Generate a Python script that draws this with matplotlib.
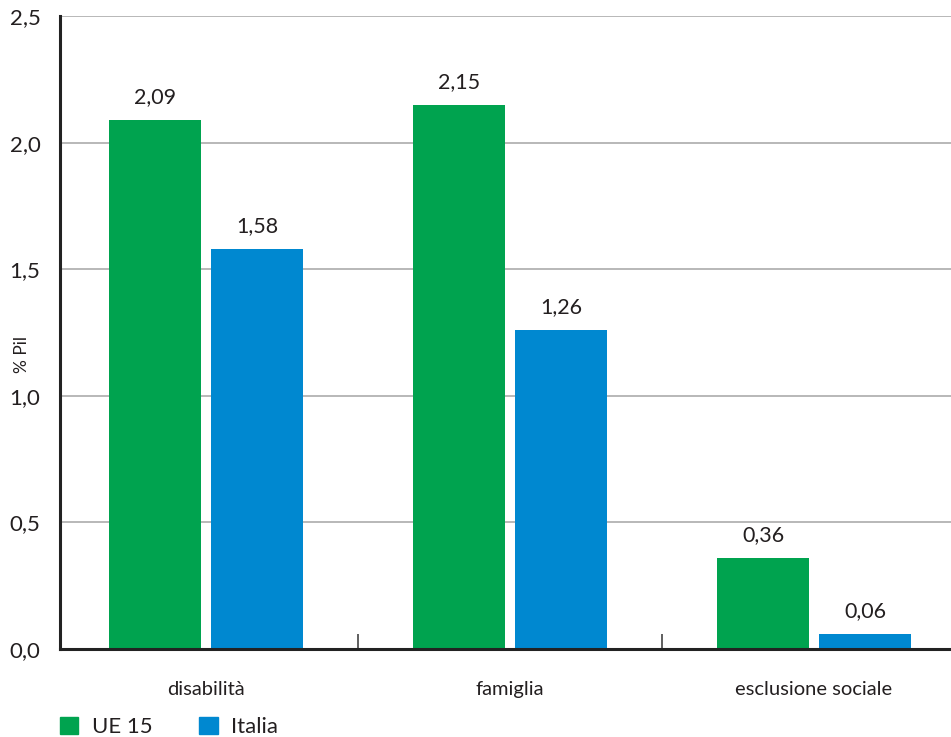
import matplotlib
matplotlib.use("Agg")
import matplotlib.pyplot as plt
from matplotlib.patches import Patch
import numpy as np

categories = ["disabilità", "famiglia", "esclusione sociale"]
ue15 = [2.09, 2.15, 0.36]
italia = [1.58, 1.26, 0.06]
series_names = ["UE 15", "Italia"]
yticks = [0.0, 0.5, 1.0, 1.5, 2.0, 2.5]

GREEN = "#00A34F"
BLUE = "#0088D0"
TEXT = "#231F20"

plt.rcParams["font.family"] = ["Lato", "DejaVu Sans"]

W, H = 951, 737
fig = plt.figure(figsize=(W / 100, H / 100), dpi=100)
ax = fig.add_axes([60 / W, 1 - 649 / H, 1 - 60 / W, (649 - 16) / H])

x = np.arange(len(categories))
off = 51 / 304
width = 92 / 304

b1 = ax.bar(x - off, ue15, width, color=GREEN, zorder=3)
b2 = ax.bar(x + off, italia, width, color=BLUE, zorder=3)

fmt = lambda v: f"{v:.2f}".replace(".", ",")
for bars, vals in ((b1, ue15), (b2, italia)):
    for rect, v in zip(bars, vals):
        ax.annotate(fmt(v), (rect.get_x() + rect.get_width() / 2, v),
                    xytext=(0, 9), textcoords="offset points",
                    ha="center", va="bottom", fontsize=15.5, color=TEXT)

ax.set_xlim((60 - 206) / 304, (951 - 206) / 304)
ax.set_ylim(0, 2.5)

ax.set_yticks(yticks)
ax.set_yticklabels([f"{t:.1f}".replace(".", ",") for t in yticks],
                   fontsize=16, color=TEXT)
ax.tick_params(axis="y", length=0, pad=14)
ax.yaxis.grid(True, color="#ABABAB", linewidth=1.2, zorder=0)

# category labels at centres, separator ticks between groups
ax.set_xticks(x)
ax.set_xticklabels(categories, fontsize=14.5, color=TEXT)
ax.tick_params(axis="x", which="major", length=0, pad=23)
ax.set_xticks([0.5, 1.5], minor=True)
ax.tick_params(axis="x", which="minor", direction="in", length=11,
               width=1.2, color="#444444")

for s in ("top", "right"):
    ax.spines[s].set_visible(False)
for s in ("left", "bottom"):
    ax.spines[s].set_linewidth(2.2)
    ax.spines[s].set_color("#222222")
    ax.spines[s].set_zorder(4)

fig.text(22 / W, 1 - 355 / H, "% Pil", rotation=90, ha="center",
         va="center", fontsize=12.5, color=TEXT)

handles = [Patch(color=GREEN), Patch(color=BLUE)]
fig.legend(handles, series_names, loc="center left",
           bbox_to_anchor=(60 / W, 1 - 727 / H), ncol=2, frameon=False,
           borderpad=0, borderaxespad=0,
           fontsize=16, handlelength=0.82, handleheight=0.82,
           handletextpad=0.62, columnspacing=2.1, labelcolor=TEXT)

fig.savefig("out.png", dpi=100)
